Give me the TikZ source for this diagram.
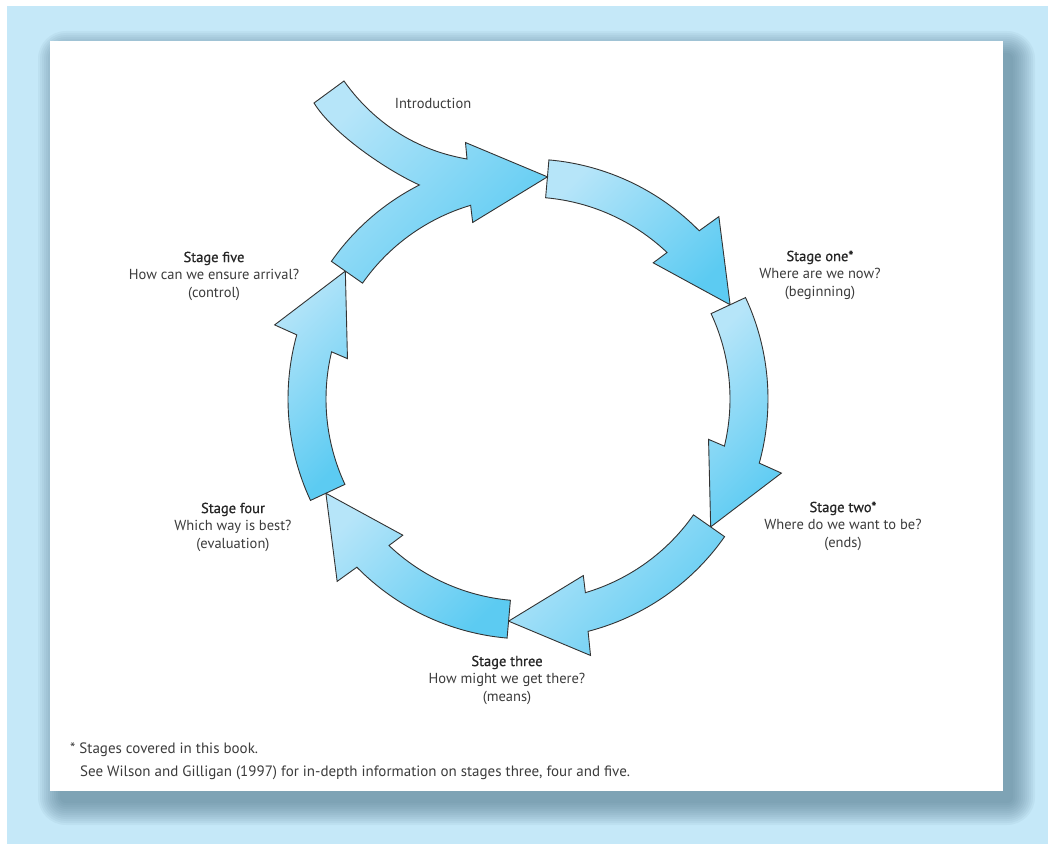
\documentclass[tikz,border=0pt]{standalone}
\usepackage{fontspec}
\setmainfont{PT Sans}
\newfontfamily\headfont{PT Sans}[FakeBold=0.7]
\usepackage{tikz}
\definecolor{bgblue}{HTML}{C5E8F8}
\definecolor{shadowblue}{HTML}{4E7388}
\definecolor{arrowlight}{HTML}{B6E5F9}
\definecolor{arrowdark}{HTML}{5CCBF2}
\definecolor{txtgray}{HTML}{3C3C3C}
\tikzset{
    ringarrow/.style={draw=black!80, line width=0.9pt, line join=miter,
        top color=arrowlight, bottom color=arrowdark, shading angle=45},
    stagelabel/.style={align=center, text=txtgray, inner sep=0pt,
        font=\fontsize{14.5}{17.5}\selectfont},
    footnote/.style={anchor=base west, text=txtgray, inner sep=0pt,
        font=\fontsize{15}{18}\selectfont}
}
\newcommand{\stagetitle}[1]{{\headfont\color{black!85}#1}}

\begin{document}
\begin{tikzpicture}[x=1pt, y=1pt]
    \useasboundingbox (0,0) rectangle (1048,844);
    \fill[white] (0,0) rectangle (1048,844);
    \fill[bgblue] (7,0) rectangle (1048,838);
    % soft shadow under the panel
    \foreach \i [evaluate=\i as \r using 6+2*\i] in {0,...,11}
        \fill[shadowblue, opacity=0.065, rounded corners=\r pt]
            ({60-2*\i},{41-2*\i}) rectangle ({1013+2*\i},{791+2*\i});
    \fill[white] (50,53) rectangle (1003,803);

    \begin{scope}[shift={(528,445)}]
        % five stage arrows, 60 degrees each
        \foreach \t in {85,25,-35,-95,-155} {
            \pgfmathsetmacro{\p}{\t-60}
            \draw[ringarrow]
                (\t:202) -- (\t:240)
                arc[start angle=\t, end angle=\p+19.5, radius=240]
                -- ({\p+18.7}:264) -- (\p:223) -- ({\p+22.4}:185) -- ({\p+21.5}:202)
                arc[start angle=\p+21.5, end angle=\t, radius=202] -- cycle;
        }
        % top arrow with the introduction joining it
        \draw[ringarrow]
            (145:202) -- (145:240)
            arc[start angle=145, end angle=116.9, radius=240]
            .. controls (-140,228) and (-195,265) .. (-214,296)
            -- (-184,318)
            .. controls (-160,284) and (-120,250) .. (-61,240)
            -- (103.7:264) -- (85:223) -- (107.4:185) -- (106.5:202)
            arc[start angle=106.5, end angle=145, radius=202] -- cycle;
    \end{scope}

    \node[stagelabel] at (433,741) (intro) {Introduction};
    \node[stagelabel] at (820,569) (stageone) {\stagetitle{Stage one*}\\Where are we now?\\(beginning)};
    \node[stagelabel] at (843,318) (stagetwo) {\stagetitle{Stage two*}\\Where do we want to be?\\(ends)};
    \node[stagelabel] at (507,164) (stagethree) {\stagetitle{Stage three}\\How might we get there?\\(means)};
    \node[stagelabel] at (233,317) (stagefour) {\stagetitle{Stage four}\\Which way is best?\\(evaluation)};
    \node[stagelabel] at (214,568) (stagefive) {\stagetitle{Stage five}\\How can we ensure arrival?\\(control)};

    \node[footnote] at (70,91) (starnote) {* Stages covered in this book.};
    \node[footnote] at (80,68) (seenote) {See Wilson and Gilligan (1997) for in-depth information on stages three, four and five.};
\end{tikzpicture}
\end{document}
